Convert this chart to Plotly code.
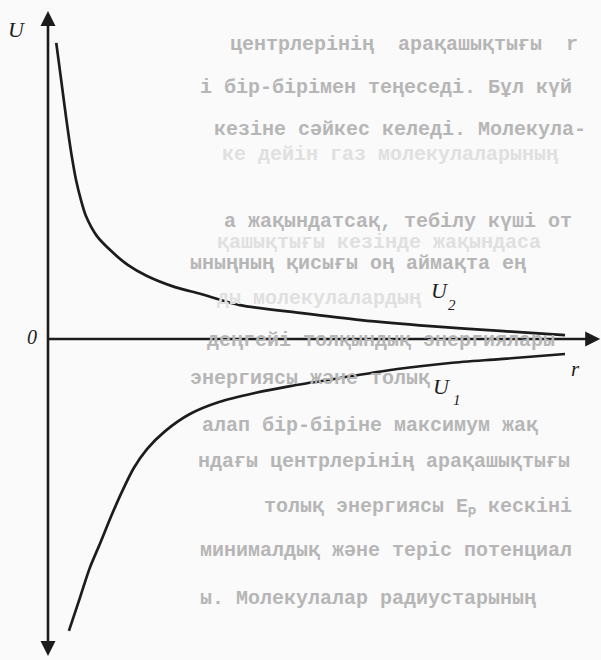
import plotly.graph_objects as go

# Repulsive branch U2 (r, U) and attractive branch U1 (r, U), arbitrary units
r2 = [0.15, 0.24, 0.33, 0.42, 0.51, 0.60, 0.69, 0.89, 1.15, 1.45, 1.80, 2.31,
      2.78, 3.49, 4.58, 5.69, 6.95, 8.22, 9.40]
u2 = [9.87, 8.63, 7.37, 6.23, 5.30, 4.63, 4.10, 3.43, 2.93, 2.47, 2.10, 1.73,
      1.50, 1.13, 0.87, 0.63, 0.43, 0.27, 0.13]

r1 = [0.38, 0.58, 0.76, 0.95, 1.15, 1.35, 1.56, 1.80, 2.13, 2.58, 3.11, 3.76,
      4.40, 5.31, 6.35, 7.31, 8.22, 9.40]
u1 = [-9.73, -8.63, -7.63, -6.80, -5.90, -5.07, -4.30, -3.67, -3.07, -2.50,
      -2.10, -1.80, -1.57, -1.30, -1.00, -0.80, -0.67, -0.50]

# Axis extents in data units
r_axis_end = 10.04
u_axis_top = 10.93
u_axis_bottom = -10.57

# Page text printed behind the figure: (x px, y px, text, strong)
page_lines = [
    (228, 45, "центрлерінің  арақашықтығы  r", 1),
    (198, 88, "і бір-бірімен теңеседі. Бұл күй", 1),
    (212, 129, "кезіне сәйкес келеді. Молекула-", 1),
    (220, 154, "ке дейін газ молекулаларының", 0),
    (222, 221, "а жақындатсақ, тебілу күші от", 1),
    (215, 242, "қашықтығы кезінде жақындаса", 0),
    (188, 263, "ыныңның қисығы оң аймақта ең", 1),
    (215, 298, "ды молекулалардың", 0),
    (205, 340, "деңгейі толқындық энергиялары", 1),
    (188, 378, "энергиясы және толық", 1),
    (200, 425, "алап бір-біріне максимум жақ", 1),
    (196, 462, "ндағы центрлерінің арақашықтығы", 1),
    (262, 506, "толық энергиясы Eₚ кескіні", 1),
    (198, 550, "минималдық және теріс потенциал", 1),
    (198, 598, "ы. Молекулалар радиустарының", 1),
]

W, H = 601, 660
X0, X1 = -0.8727, 10.0545
Y0, Y1 = -10.7, 11.3
INK = "#1c1c1c"

fig = go.Figure()

# Axes: both shafts in one trace, arrowheads as markers at their ends
fig.add_trace(go.Scatter(
    x=[0, 0, None, 0, r_axis_end - 0.15],
    y=[u_axis_bottom + 0.3, u_axis_top - 0.3, None, 0, 0],
    mode="lines", line=dict(color=INK, width=2.6),
    hoverinfo="skip", showlegend=False))
fig.add_trace(go.Scatter(
    x=[0, 0, r_axis_end], y=[u_axis_top, u_axis_bottom, 0], mode="markers",
    marker=dict(symbol=["arrow-up", "arrow-down", "arrow-right"], size=15,
                color=INK, line=dict(width=0)),
    hoverinfo="skip", showlegend=False))

# Potential energy curves U2 and U1
fig.add_trace(go.Scatter(
    x=r2 + [None] + r1, y=u2 + [None] + u1, mode="lines",
    line=dict(color=INK, width=2.7, shape="spline", smoothing=0.8),
    connectgaps=False, hoverinfo="skip", showlegend=False))

annotations = []

# Background page text
for px, py, txt, strong in page_lines:
    annotations.append(dict(
        x=px / W, y=1 - py / H, xref="paper", yref="paper",
        xanchor="left", yanchor="middle", showarrow=False,
        text="<b>" + txt + "</b>",
        font=dict(family="Liberation Mono", size=20,
                  color="#b6b6b6" if strong else "#e0e0e0"),
    ))

# Axis and curve labels; subscripts set as their own smaller text
labels = [
    (17, 29, "U", 22),
    (32, 337, "0", 20),
    (575, 369, "r", 21),
    (440, 290, "U", 22),
    (452, 305, "2", 15),
    (442, 386, "U", 22),
    (457, 400, "1", 15),
]
for px, py, txt, size in labels:
    annotations.append(dict(
        x=px / W, y=1 - py / H, xref="paper", yref="paper",
        xanchor="center", yanchor="middle", showarrow=False,
        text="<i>" + txt + "</i>",
        font=dict(family="Liberation Serif", size=size, color=INK),
    ))

fig.update_layout(
    width=W, height=H,
    margin=dict(l=0, r=0, t=0, b=0),
    paper_bgcolor="#fafafa",
    plot_bgcolor="rgba(0,0,0,0)",
    xaxis=dict(range=[X0, X1], visible=False, fixedrange=True),
    yaxis=dict(range=[Y0, Y1], visible=False, fixedrange=True),
    annotations=annotations,
    showlegend=False,
)

fig.write_html("out.html", config={"displayModeBar": False})
